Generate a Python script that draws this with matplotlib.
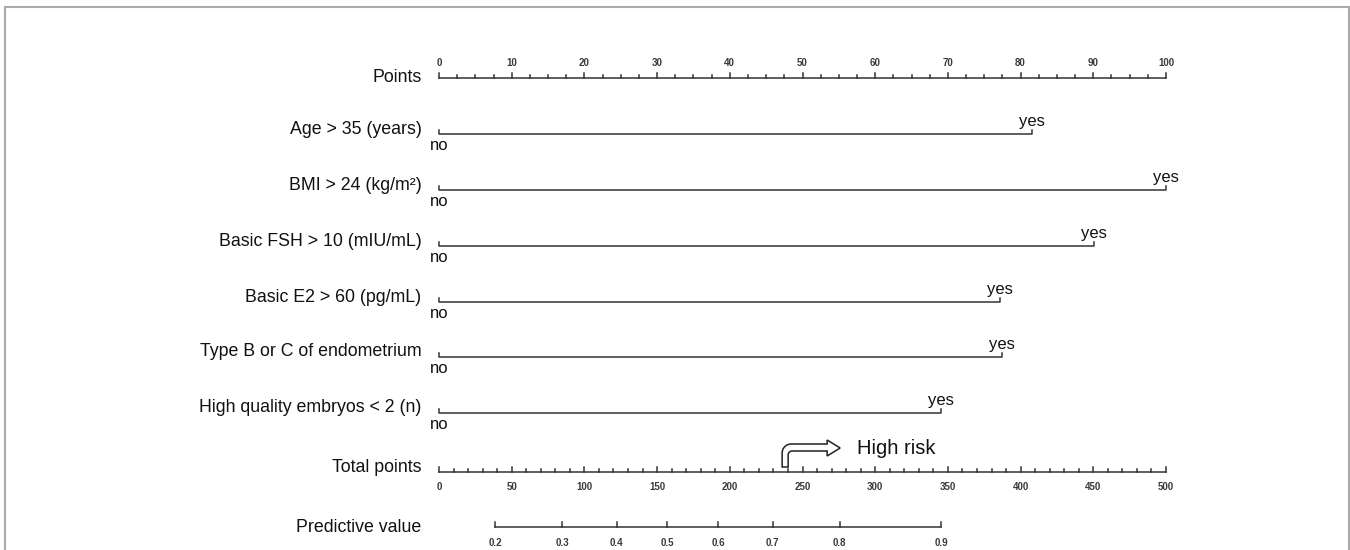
import numpy as np
import matplotlib.pyplot as plt
from matplotlib.patches import Rectangle

plt.rcParams['font.family'] = ['Liberation Sans', 'DejaVu Sans']

# Variables of the nomogram and the points given to "yes"
variables = ['Age > 35 (years)', 'BMI > 24 (kg/m\u00b2)', 'Basic FSH > 10 (mIU/mL)',
             'Basic E2 > 60 (pg/mL)', 'Type B or C of endometrium',
             'High quality embryos < 2 (n)']
yes_points = [81.6, 100.0, 90.1, 77.2, 77.4, 69.0]

# Predictive value scale: probability and the total points where it sits
pv_labels = ['0.2', '0.3', '0.4', '0.5', '0.6', '0.7', '0.8', '0.9']
pv_total = [38.5, 84.6, 122.3, 157.0, 192.0, 229.5, 275.6, 345.5]

# High risk cut-off on total points
risk_total = 236

# layout (pixels from top)
x0_px, px_per_pt = 439, 7.27
y_points = 78
y_rows = [134, 190, 246, 302, 357, 413]
y_total = 472
y_pv = 527
label_x = -2.4  # in points units, right edge of row labels

fig = plt.figure(figsize=(13.5, 5.5), dpi=100)
ax = fig.add_axes([0, 0, 1, 1])
ax.set_xlim(-x0_px / px_per_pt, (1350 - x0_px) / px_per_pt)
ax.set_ylim(550, 0)
ax.axis('off')

lc = '#333333'
lw = 1.1
tick_font = dict(fontsize=7, color='#3a3a3a', fontweight='bold')
lab_font = dict(fontsize=12.8, color='#111111')

# border
fig.patches.append(Rectangle((4.5 / 1350, -0.05), 1344.5 / 1350, (550 - 6.5) / 550 + 0.05,
                             transform=fig.transFigure, fill=False,
                             edgecolor='#aaaaaa', lw=1.5))

# Points axis
ax.plot([0, 100], [y_points, y_points], color=lc, lw=lw)
for v in np.arange(0, 100.1, 2.5):
    major = v % 10 == 0
    ax.plot([v, v], [y_points, y_points - (5 if major else 3)], color=lc, lw=lw)
    if major:
        ax.text(v, y_points - 10, '%d' % v, ha='center', va='bottom', **tick_font)
ax.text(label_x, y_points, 'Points', ha='right', va='center', **lab_font)

# variable rows
for name, yp, y in zip(variables, yes_points, y_rows):
    ax.plot([0, 0, yp, yp], [y - 4, y, y, y - 4], color=lc, lw=lw)
    ax.text(0.1, y + 4, 'no', ha='center', va='top', fontsize=12, color='#111111')
    ax.text(yp, y - 5, 'yes', ha='center', va='bottom', fontsize=12, color='#111111')
    ax.text(label_x, y - 5, name, ha='right', va='center', **lab_font)

# Total points axis (500 total points over the 100 points width)
scale = 100 / 500
ax.plot([0, 100], [y_total, y_total], color=lc, lw=lw)
for v in np.arange(0, 501, 10):
    major = v % 50 == 0
    ax.plot([v * scale] * 2, [y_total, y_total - (5 if major else 3)], color=lc, lw=lw)
    if major:
        ax.text(v * scale, y_total + 10, '%d' % v, ha='center', va='top', **tick_font)
ax.text(label_x, y_total - 5, 'Total points', ha='right', va='center', **lab_font)

# Predictive value axis
pv_x = [t * scale for t in pv_total]
ax.plot([pv_x[0], pv_x[-1]], [y_pv, y_pv], color=lc, lw=lw)
for x, lab in zip(pv_x, pv_labels):
    ax.plot([x, x], [y_pv, y_pv - 5], color=lc, lw=lw)
    ax.text(x, y_pv + 11, lab, ha='center', va='top', **tick_font)
ax.text(label_x, y_pv, 'Predictive value', ha='right', va='center', **lab_font)

# High risk bent arrow (outlined), shape given in pixel offsets
xr = risk_total * scale
def arc(cx, cy, r, a0, a1, n=12):
    a = np.radians(np.linspace(a0, a1, n))
    return list(cx + r * np.cos(a)), list(cy - r * np.sin(a))

px, py = [0, 0], [467, 453]
ax_, ay_ = arc(9, 453, 9, 180, 90)
px += ax_; py += ay_
px += [45, 45, 58, 45, 45, 10]
py += [444, 440, 448, 456, 451, 451]
ax_, ay_ = arc(10, 455, 4, 90, 180)
px += ax_; py += ay_
px += [6]; py += [467]
ax.fill([xr + p / px_per_pt for p in px], py, facecolor='white',
        edgecolor='#222222', lw=1.1, zorder=3)
ax.text(xr + 75 / px_per_pt, 448, 'High risk', ha='left', va='center',
        fontsize=14.5, color='#111111')

fig.savefig('out.png', dpi=100)
